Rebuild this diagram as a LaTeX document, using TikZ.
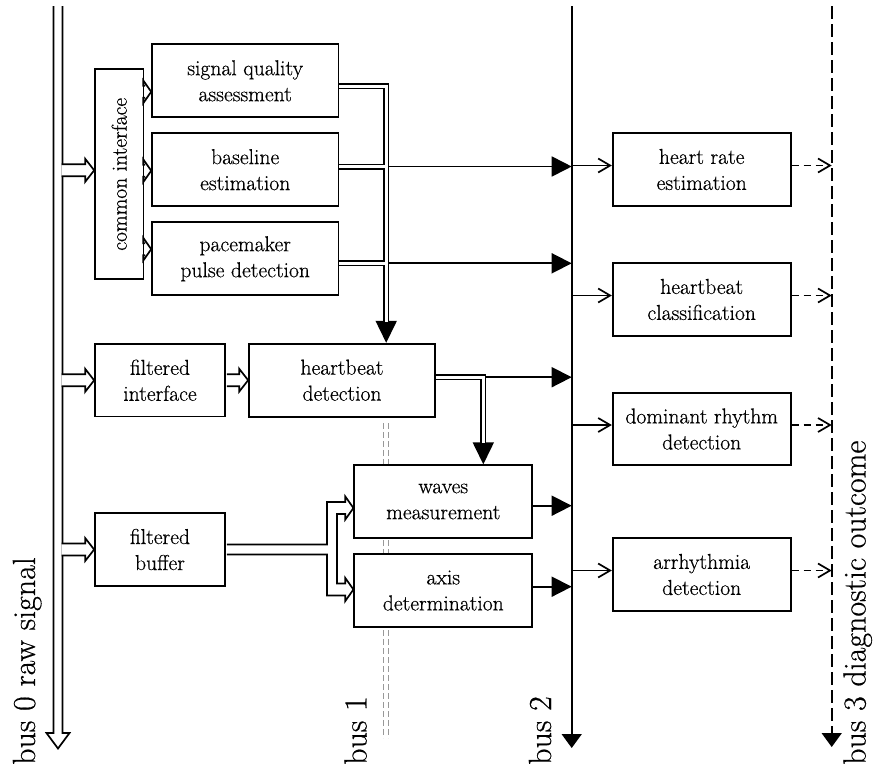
\documentclass[tikz,border=0pt]{standalone}
\usepackage{fontspec}
\setmainfont{Latin Modern Roman}[FakeBold=0.5]
\usepackage{graphicx}
\usetikzlibrary{arrows.meta,calc}

\tikzset{
  box/.style={draw, line width=1.7pt, fill=white, inner sep=0pt, align=center,
              font=\fontsize{21.6}{26}\selectfont},
  lbox/.style={box, minimum width=186.3pt, minimum height=73pt},
  sbox/.style={box, minimum width=130pt, minimum height=72.6pt},
  mbox/.style={box, minimum width=178pt, minimum height=72.6pt},
  buslabel/.style={inner sep=0pt, font=\fontsize{32}{38}\selectfont, rotate=90, anchor=base west},
  tri/.style={line width=1.7pt, -{Triangle[length=20pt,width=20pt]}},
  bigtri/.style={line width=1.7pt, -{Triangle[length=22pt,width=21pt]}},
  endtri/.style={line width=1.7pt, -{Triangle[length=14pt,width=20pt]}},
  oarr/.style={line width=1.7pt, -{Straight Barb[length=12pt,width=14pt]}},
  darr/.style={line width=1.7pt, dash pattern=on 7pt off 5pt, -{Straight Barb[length=12pt,width=14pt]}},
  dbl/.style={double, double distance=2.6pt, line width=1.7pt},
  bus1line/.style={black!40, line width=1.5pt, dash pattern=on 6pt off 3pt},
  hollow/.style={fill=white, line width=1.7pt, line join=miter},
}

% hollow (outlined) arrow: #1 start (x used), #2 tip, #3 head length
\newcommand{\hollowR}[3]{%
  \filldraw[hollow] let \p1=#1, \p2=#2 in
    (\x1,\y2+6pt) -- (\x2-#3,\y2+6pt) -- (\x2-#3,\y2+11.5pt) -- (\x2,\y2)
    -- (\x2-#3,\y2-11.5pt) -- (\x2-#3,\y2-6pt) -- (\x1,\y2-6pt);}

\begin{document}
\begin{tikzpicture}[x=1pt,y=-1pt]
\useasboundingbox (0,0) rectangle (874,769);

% bus 1 (grey dashed double line), drawn behind the boxes
\draw[bus1line] (383.6,423) -- (383.6,738);
\draw[bus1line] (388.4,423) -- (388.4,738);

% boxes
\node[box, minimum width=48.3pt, minimum height=210pt] (ci) at (119.2,174.3) {\rotatebox{90}{common interface}};
\node[lbox] (sq) at (245.2,80.8) {signal quality\\assessment};
\node[lbox] (be) at (245.2,169.7) {baseline\\estimation};
\node[lbox] (pm) at (245.2,258.8) {pacemaker\\pulse detection};
\node[sbox] (fi) at (160,380.3) {filtered\\interface};
\node[lbox, minimum width=186pt] (hd) at (342,380.2) {heartbeat\\detection};
\node[sbox] (fb) at (160,549.5) {filtered\\buffer};
\node[mbox] (wm) at (443.3,501.5) {waves\\measurement};
\node[mbox] (ad) at (443.3,590.5) {axis\\determination};
\node[mbox] (hr) at (701.7,169.5) {heart rate\\estimation};
\node[mbox] (hc) at (701.7,299.5) {heartbeat\\classification};
\node[mbox] (dr) at (701.7,429) {dominant rhythm\\detection};
\node[mbox] (ar) at (701.7,574.5) {arrhythmia\\detection};

% bus coordinates
\coordinate (b0) at (61.6,0);
\coordinate (b2) at (571.7,0);
\coordinate (b3) at (831.7,0);
\coordinate (vx) at (386.2,0);
\coordinate (wx) at (483.3,0);

% bus 0 (hollow arrow)
\filldraw[hollow] (53.5,6) -- (53.5,733) -- (46.5,733) -- (58,748.5) -- (69.5,733) -- (62.5,733) -- (62.5,6);
% bus 2
\draw[endtri] (571.7,6) -- (571.7,748);
% bus 3
\draw[endtri, dash pattern=on 13pt off 5pt] (831.7,6) -- (831.7,747);

% bus 0 branches
\hollowR{(b0)}{($(ci.west)+(0,-4)$)}{9pt}
\hollowR{(b0)}{(fi.west)}{9pt}
\hollowR{(b0)}{(fb.west)}{9pt}

% common interface outputs
\hollowR{($(ci.east)+(0.9,0)$)}{($(sq.west)+(0,11)$)}{8pt}
\hollowR{($(ci.east)+(0.9,0)$)}{($(be.west)+(0,1)$)}{8pt}
\hollowR{($(ci.east)+(0.9,0)$)}{($(pm.west)+(0,-9.6)$)}{8pt}

% filtered interface -> heartbeat detection
\hollowR{($(fi.east)+(0.9,0)$)}{(hd.west)}{9pt}

% filtered buffer -> waves measurement / axis determination (forked channel)
\filldraw[hollow] ($(fb.east)+(0.9,-5)$) -- (327,544.5) -- (327,502) -- (345.3,502) -- (345.3,496.5)
  -- ($(wm.west)+(0,6.5)$) -- (345.3,519.5) -- (345.3,514) -- (337,514) -- (337,583.5)
  -- (345.3,583.5) -- (345.3,578) -- ($(ad.west)+(0,-1)$) -- (345.3,601) -- (345.3,595.5)
  -- (327,595.5) -- (327,554.5) -- ($(fb.east)+(0.9,5)$);

% single lines into bus 2
\coordinate (e0) at ($(sq.east)+(0,5.4)$);
\coordinate (e1) at ($(be.east)+(0,-3.2)$);
\coordinate (e2) at ($(pm.east)+(0,4.5)$);
\coordinate (e3) at ($(hd.east)+(0,-3)$);
\coordinate (e4) at ($(wm.east)+(0,4.2)$);
\coordinate (e5) at ($(ad.east)+(0,-3.8)$);
\draw[tri] (e1 -| vx) -- (e1 -| b2);
\draw[tri] (e2 -| vx) -- (e2 -| b2);
\draw[tri] (e3 -| wx) -- (e3 -| b2);
\draw[tri] (e4) -- (e4 -| b2);
\draw[tri] (e5) -- (e5 -| b2);

% double lines into heartbeat detection
\draw[bigtri] ($(hd.north -| vx)+(0,-23)$) -- (hd.north -| vx);
\draw[dbl] (e0) -| ($(hd.north -| vx)+(0,-21)$);
\draw[dbl] (e1) -- ($(e1 -| vx)+(-1.3,0)$);
\draw[dbl] (e2) -- ($(e2 -| vx)+(-1.3,0)$);

% heartbeat detection -> waves measurement
\draw[bigtri] ($(wm.north -| wx)+(0,-23)$) -- (wm.north -| wx);
\draw[dbl] (e3) -| ($(wm.north -| wx)+(0,-21)$);

% bus 2 -> right column, right column -> bus 3
\foreach \n/\c in {hr/r1, hc/r2, dr/r3, ar/r4}{
  \coordinate (\c l) at ($(\n.west)+(0,-4)$);
  \coordinate (\c r) at ($(\n.east)+(0,-4)$);
  \draw[oarr] (\c l -| b2) -- (\c l);
  \draw[darr] (\c r) -- (\c r -| b3);
}

% bus labels
\node[buslabel] (l0) at (35,765) {bus 0 raw signal};
\node[buslabel] (l1) at (366.5,765) {bus 1};
\node[buslabel] (l2) at (551,765) {bus 2};
\node[buslabel] (l3) at (865.5,765) {bus 3 diagnostic outcome};
\end{tikzpicture}
\end{document}
